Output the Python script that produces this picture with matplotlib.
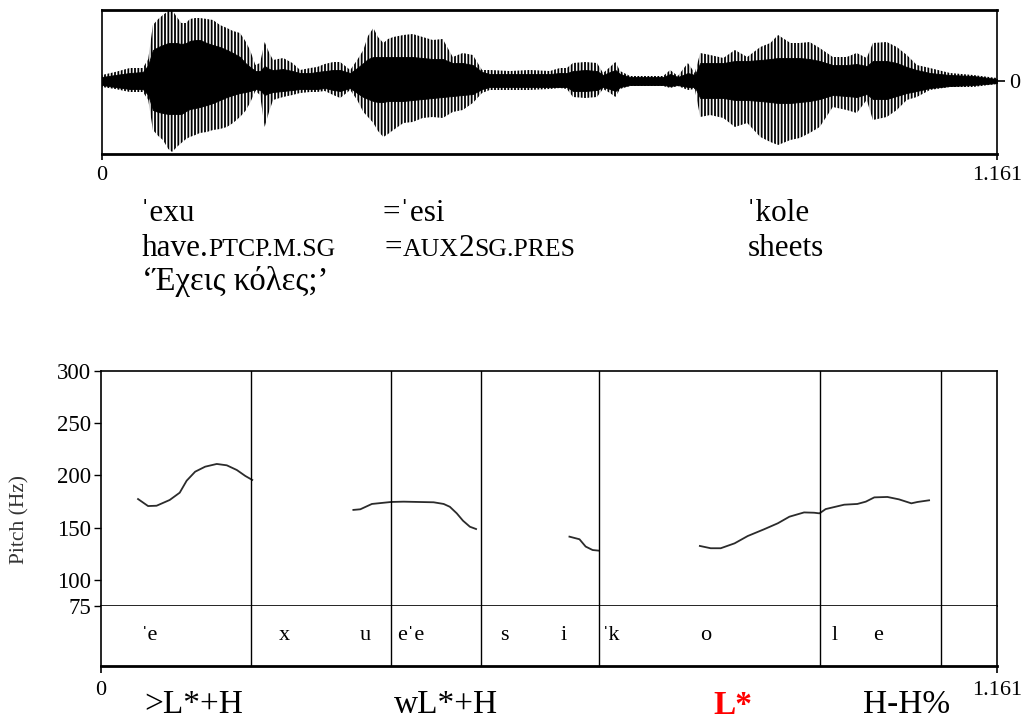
import numpy as np
import matplotlib.pyplot as plt
from matplotlib import transforms

plt.rcParams['font.family'] = ['Liberation Serif', 'DejaVu Serif']
plt.rcParams['hatch.linewidth'] = 1.3

W, H = 1023, 720
T_END = 1.161

# oscillogram: envelope of the signal (time in s, amplitude in arbitrary units)
wave_t = [0.000, 0.017, 0.036, 0.053, 0.060, 0.066, 0.073, 0.079, 0.086, 0.091,
          0.097, 0.103, 0.109, 0.114, 0.121, 0.127, 0.136, 0.144, 0.153, 0.162,
          0.170, 0.179, 0.186, 0.192, 0.199, 0.205, 0.211, 0.217, 0.222, 0.235,
          0.247, 0.257, 0.270, 0.279, 0.289, 0.300, 0.309, 0.322, 0.331, 0.339,
          0.345, 0.352, 0.358, 0.365, 0.371, 0.378, 0.391, 0.403, 0.416, 0.429,
          0.442, 0.455, 0.468, 0.481, 0.493, 0.503, 0.529, 0.555, 0.581, 0.594,
          0.603, 0.611, 0.627, 0.642, 0.650, 0.659, 0.666, 0.672, 0.685, 0.704,
          0.728, 0.737, 0.747, 0.760, 0.769, 0.776, 0.789, 0.806, 0.821, 0.837,
          0.854, 0.867, 0.877, 0.893, 0.905, 0.918, 0.931, 0.948, 0.966, 0.979,
          0.992, 1.000, 1.018, 1.031, 1.044, 1.057, 1.074, 1.100, 1.130, 1.161]
peak_hi = [6, 9, 13, 13, 22, 56, 62, 66, 70, 71,
           64, 58, 58, 62, 63, 63, 62, 61, 56, 53,
           50, 48, 40, 31, 16, 18, 39, 28, 21, 23,
           18, 11, 13, 14, 17, 19, 19, 11, 21, 31,
           45, 53, 44, 38, 42, 44, 46, 47, 44, 41,
           42, 24, 28, 26, 11, 11, 10, 11, 10, 13,
           13, 18, 19, 18, 8, 14, 19, 10, 5, 5,
           5, 11, 5, 18, 8, 28, 26, 23, 31, 24,
           34, 38, 46, 38, 38, 39, 33, 24, 24, 28,
           23, 38, 39, 34, 26, 16, 13, 8, 6, 3]
peak_lo = [-6, -8, -11, -11, -19, -49, -55, -59, -68, -71,
           -66, -62, -58, -56, -54, -52, -51, -49, -48, -46,
           -42, -36, -30, -22, -10, -14, -46, -30, -19, -16,
           -14, -12, -11, -11, -10, -14, -17, -9, -19, -31,
           -36, -42, -50, -56, -53, -49, -42, -41, -37, -36,
           -37, -31, -29, -22, -12, -9, -9, -9, -8, -7,
           -8, -16, -17, -16, -8, -12, -16, -8, -5, -5,
           -5, -7, -5, -9, -8, -36, -34, -37, -46, -42,
           -56, -61, -64, -59, -57, -52, -46, -26, -29, -32,
           -19, -39, -36, -29, -19, -16, -9, -6, -6, -3]
core_hi = [4, 6, 8, 9, 16, 31, 34, 36, 38, 38,
           38, 37, 38, 40, 41, 41, 38, 36, 34, 31,
           28, 24, 18, 14, 10, 10, 15, 12, 11, 12,
           10, 8, 8, 9, 10, 11, 11, 8, 13, 18,
           22, 24, 24, 24, 24, 24, 24, 24, 23, 22,
           22, 18, 18, 16, 9, 7, 7, 7, 7, 8,
           8, 10, 11, 10, 6, 9, 11, 7, 4, 4,
           4, 7, 4, 8, 6, 18, 18, 18, 20, 20,
           21, 22, 23, 23, 23, 22, 20, 16, 16, 17,
           15, 20, 20, 18, 14, 11, 8, 6, 5, 2]
core_lo = [-4, -6, -8, -8, -14, -29, -31, -32, -33, -33,
           -33, -33, -30, -28, -27, -26, -24, -22, -19, -16,
           -14, -12, -11, -10, -8, -9, -14, -12, -11, -10,
           -9, -8, -8, -8, -7, -9, -10, -7, -12, -16,
           -18, -20, -21, -21, -20, -20, -20, -19, -18, -17,
           -16, -15, -14, -13, -8, -6, -6, -6, -6, -6,
           -6, -10, -10, -9, -6, -8, -10, -6, -4, -4,
           -4, -5, -4, -6, -6, -17, -17, -17, -19, -19,
           -20, -21, -22, -22, -21, -20, -18, -14, -15, -16,
           -13, -18, -18, -15, -12, -10, -7, -5, -4, -2]

# F0 contour, one list per voiced stretch
f0_t = [
    [0.048, 0.061, 0.072, 0.089, 0.102, 0.111, 0.122, 0.135, 0.150, 0.163, 0.176, 0.187, 0.196],
    [0.327, 0.336, 0.351, 0.376, 0.392, 0.431, 0.444, 0.452, 0.461, 0.469, 0.478, 0.486],
    [0.607, 0.620, 0.628, 0.637, 0.645],
    [0.776, 0.790, 0.803, 0.821, 0.838, 0.859, 0.877, 0.892, 0.911, 0.924, 0.931,
     0.939, 0.963, 0.980, 0.991, 1.002, 1.019, 1.034, 1.050, 1.058, 1.073],
]
f0_hz = [
    [177.4, 170.7, 171.0, 176.5, 183.5, 195.0, 203.6, 208.4, 211.0, 209.7, 205.2, 199.5, 195.7],
    [167.0, 167.6, 172.7, 174.6, 174.9, 174.3, 172.7, 170.0, 163.7, 156.7, 150.9, 148.7],
    [141.4, 138.9, 131.9, 128.6, 128.0],
    [132.5, 130.3, 130.3, 135.0, 142.0, 148.4, 154.2, 160.5, 164.6, 164.3, 163.7,
     167.8, 172.0, 172.7, 174.9, 179.0, 179.4, 177.1, 173.3, 174.6, 176.2],
]

# segmentation tier
boundaries = [0.194, 0.376, 0.492, 0.645, 0.932, 1.088]
seg_labels = ["ˈe", "x", "u", "eˈe", "s", "i", "ˈk", "o", "l", "e"]
seg_times = [0.063, 0.238, 0.342, 0.402, 0.523, 0.599, 0.661, 0.783, 0.951, 1.007]

# tonal annotation under the time axis
tones = [">L*+H", "wL*+H", "L*", "H-H%"]
tone_times = [0.120, 0.447, 0.819, 1.044]
tone_colors = ["black", "black", "red", "black"]
tone_weights = ["normal", "normal", "bold", "normal"]

pitch_ticks = [75, 100, 150, 200, 250, 300]


def fbox(x0, y0, x1, y1):
    # pixel box (top-left origin) -> figure rect
    return [x0 / W, 1 - y1 / H, (x1 - x0) / W, (y1 - y0) / H]


fig = plt.figure(figsize=(W / 100, H / 100), dpi=100)

# --- oscillogram ---
axw = fig.add_axes(fbox(102, 10, 997, 154))
axw.fill_between(wave_t, peak_lo, peak_hi, facecolor='none', edgecolor='black',
                 hatch='|||||', linewidth=0)
axw.fill_between(wave_t, core_lo, core_hi, color='black', linewidth=0.6)
axw.set_xlim(0, T_END)
axw.set_ylim(-73, 71)
for side in ['top', 'bottom']:
    axw.spines[side].set_linewidth(2)
for side in ['left', 'right']:
    axw.spines[side].set_linewidth(1.2)
axw.set_xticks([0, T_END])
axw.set_xticklabels(['0', '1.161'])
axw.yaxis.tick_right()
axw.set_yticks([0])
axw.set_yticklabels(['0'])
axw.tick_params(axis='x', length=4, width=1.2, pad=5, labelsize=16)
axw.tick_params(axis='y', length=6, width=1.2, pad=3, labelsize=16)

# --- glosses ---
renderer = fig.canvas.get_renderer()


def run(x, y, pieces):
    # pieces: (text, fontsize); drawn left to right on one baseline
    xf = x / W
    for txt, size in pieces:
        t = fig.text(xf, 1 - y / H, txt, fontsize=size, va='baseline', ha='left')
        xf += t.get_window_extent(renderer).width / W


big, small = 22.5, 18.5
run(140, 221, [("ˈexu", big)])
run(383, 221, [("=ˈesi", big)])
run(746, 221, [("ˈkole", big)])
run(142, 256, [("have.", big), ("PTCP.M.SG", small)])
run(385, 256, [("=", big), ("AUX", small), ("2", big), ("SG.PRES", small)])
run(748, 256, [("sheets", big)])
run(142, 290, [("‘Έχεις κόλες;’", 23.5)])

# --- pitch panel ---
axp = fig.add_axes(fbox(101, 371, 997, 606))
for tt, hz in zip(f0_t, f0_hz):
    axp.plot(tt, hz, color='#2b2b2b', linewidth=1.3)
for b in boundaries:
    axp.axvline(b, color='black', linewidth=1)
axp.set_xlim(0, T_END)
axp.set_ylim(75, 300)
axp.set_yticks(pitch_ticks)
axp.set_xticks([])
axp.tick_params(axis='y', length=5, width=1, pad=2, labelsize=16.5)
for s in axp.spines.values():
    s.set_linewidth(1.2)
fig.text(20 / W, 1 - 519 / H, "Pitch (Hz)", fontsize=15.5, color='#333333',
         rotation=90, ha='center', va='center')

# --- segment tier ---
axt = fig.add_axes(fbox(101, 606, 997, 666))
for b in boundaries:
    axt.axvline(b, color='black', linewidth=1)
for lab, tt in zip(seg_labels, seg_times):
    axt.text(tt, 0.5, lab, fontsize=16, ha='center', va='center')
axt.set_xlim(0, T_END)
axt.set_ylim(0, 1)
axt.set_yticks([])
axt.set_xticks([0, T_END])
axt.set_xticklabels(['0', '1.161'])
axt.tick_params(axis='x', length=5, width=1.2, pad=6, labelsize=16)
axt.spines['top'].set_visible(False)
axt.spines['bottom'].set_linewidth(2)
for side in ['left', 'right']:
    axt.spines[side].set_linewidth(1.2)

trans = transforms.blended_transform_factory(axt.transData, fig.transFigure)
for lab, tt, c, w in zip(tones, tone_times, tone_colors, tone_weights):
    axt.text(tt, 1 - 705 / H, lab, transform=trans, fontsize=24, color=c,
             fontweight=w, ha='center', va='center')

fig.savefig("out.png", dpi=100)
